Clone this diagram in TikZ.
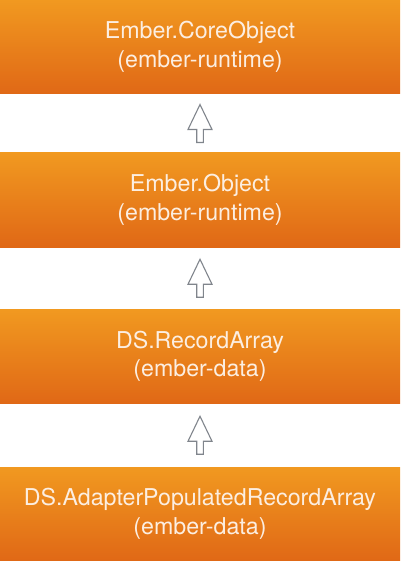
\documentclass[tikz,border=0pt]{standalone}
\usepackage{fontspec}
\setmainfont{TeX Gyre Heros}
\usetikzlibrary{calc}
\definecolor{otop}{RGB}{241,153,32}
\definecolor{obot}{RGB}{224,104,22}
\definecolor{otext}{RGB}{252,238,225}
\definecolor{agray}{RGB}{128,133,140}
\tikzset{
  box/.style={rectangle, minimum width=400pt, minimum height=94pt, inner sep=0pt,
    top color=otop, bottom color=obot, draw=none, align=center, text=otext,
    font=\fontsize{23.2}{28.5}\selectfont},
  inharr/.style={draw=agray, line width=1.1pt, fill=white, line join=miter}
}
\begin{document}
\begin{tikzpicture}[x=1pt,y=-1pt]
\useasboundingbox (0,0) rectangle (400,561);
\node[box] (b1) at (200,47) {Ember.CoreObject\\(ember-runtime)};
\node[box] (b2) at (200,200) {Ember.Object\\(ember-runtime)};
\node[box] (b3) at (200,356.5) {DS.RecordArray\\(ember-data)};
\node[box] (b4) at (200,514) {DS.AdapterPopulatedRecordArray\\(ember-data)};
\foreach \u/\l in {b1/b2, b2/b3, b3/b4}{
  \coordinate (m-\u) at ($(\u.south)!0.5!(\l.north)$);
  \draw[inharr] ($(m-\u)+(0,-19)$) -- ++(12,25) -- ++(-8.7,0) -- ++(0,13) -- ++(-6.6,0) -- ++(0,-13) -- ++(-8.7,0) -- cycle;
}
\end{tikzpicture}
\end{document}
